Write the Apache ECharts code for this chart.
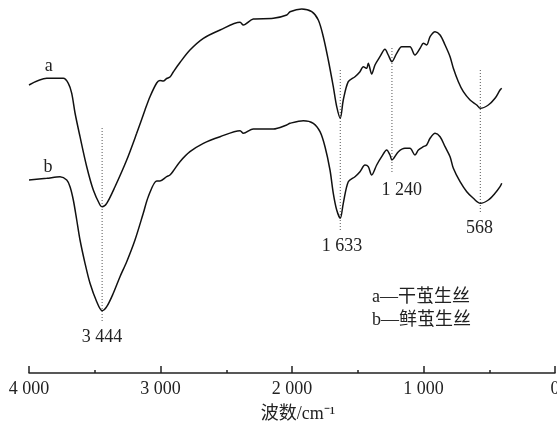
<!DOCTYPE html>
<html>
<head>
<meta charset="utf-8">
<script src="https://cdn.jsdelivr.net/npm/echarts@6/dist/echarts.min.js"></script>
<style>
  html, body { margin: 0; padding: 0; background: #fff; }
  #chart { width: 557px; height: 423px; }
</style>
</head>
<body>
<div id="chart"></div>
<script>
// 曲线 a（干茧生丝）：波数 / 相对透过率
var aWave = [4000, 3865, 3739, 3701, 3675, 3650, 3612, 3561, 3511, 3460, 3444, 3409, 3346, 3257, 3181, 3118, 3080,
  3029, 3004, 2979, 2953, 2928, 2903, 2852, 2776, 2674, 2547, 2395, 2370, 2294, 2142, 2040, 2015, 1926, 1850,
  1800, 1762, 1724, 1686, 1660, 1633, 1610, 1572, 1521, 1483, 1458, 1432, 1420, 1394, 1369, 1331, 1293, 1268,
  1240, 1204, 1166, 1141, 1103, 1065, 1026, 1001, 976, 950, 912, 874, 836, 798, 773, 735, 697, 646, 595, 568,
  507, 456, 418, 405];
var aValue = [288, 294.7, 294.7, 289.7, 279.7, 260, 236.3, 206.3, 183, 168, 166.3, 169.7, 186.3, 213, 239.7, 263, 276.3,
  290, 292.5, 292, 294.5, 296, 301, 310.5, 323, 334.7, 343, 350.7, 348, 354, 354.7, 358, 361.3, 364, 361.3,
  353, 336.3, 313, 286.3, 266.3, 254.7, 273, 291.3, 296.3, 301.3, 306.3, 304.7, 309.7, 299, 308, 316.3, 323.7, 318,
  311.3, 319.7, 326.3, 326.3, 326.3, 318, 324.7, 329.7, 328, 336.3, 341.3, 338, 328, 316.3, 304.7, 291.3, 281.3, 273, 268, 264.7,
  268, 274.7, 283, 284.7];

// 曲线 b（鲜茧生丝）
var bWave = [4000, 3865, 3764, 3713, 3688, 3663, 3637, 3612, 3574, 3536, 3485, 3444, 3409, 3359, 3308, 3257, 3194, 3131, 3093,
  3029, 3004, 2953, 2928, 2903, 2852, 2776, 2674, 2547, 2395, 2370, 2294, 2142, 2040, 2015, 1914, 1838,
  1787, 1749, 1711, 1686, 1660, 1633, 1610, 1572, 1521, 1483, 1445, 1420, 1394, 1356, 1318, 1280, 1255,
  1240, 1191, 1141, 1103, 1065, 1039, 1001, 976, 950, 912, 874, 836, 798, 773, 722, 671, 621, 568,
  507, 456, 418, 405];
var bValue = [193, 194.7, 196.3, 193, 186.3, 173, 153, 133, 109.7, 89.7, 71.3, 62.3, 66.3, 79.7, 96.3, 111.3, 133, 159.7, 176.3,
  192, 192, 196.3, 198, 202, 211.3, 221.3, 229.7, 236.3, 242.3, 239.7, 244, 244, 248, 249.7, 252.3, 249.7,
  241.3, 226.3, 203, 179.7, 163, 154.7, 169.7, 191.3, 196.3, 201.3, 208, 206.3, 198, 208, 216.3, 223, 218,
  213, 221.3, 224.7, 224.7, 218, 223, 226.3, 228, 234.7, 239.7, 236.3, 226.3, 216.3, 204.7, 191.3, 181.3, 174.7, 169.7,
  173, 179.7, 186.3, 189.7];

// 特征峰
var peakWave = [3444, 1633, 1240, 568];
var peakTop = [245, 303, 325, 303];
var peakBottom = [51, 141, 200, 161];
var peakText = ['3 444', '1 633', '1 240', '568'];
var peakLabelWave = [3444, 1620, 1165, 575];
var peakLabelValue = [36, 127, 183, 145];

var serif = '"Liberation Serif", "Noto Sans CJK SC", serif';

function pairs(xs, ys) {
  return xs.map(function (x, i) { return [x, ys[i]]; });
}

function fmt(v) {
  return String(v).replace(/\B(?=(\d{3})+(?!\d))/g, ' ');
}

var chart = echarts.init(document.getElementById('chart'));

var series = [
  {
    name: 'a',
    type: 'line',
    data: pairs(aWave, aValue),
    showSymbol: false,
    smooth: 0.3,
    lineStyle: { color: '#111', width: 1.5 },
    silent: true,
    z: 3
  },
  {
    name: 'b',
    type: 'line',
    data: pairs(bWave, bValue),
    showSymbol: false,
    smooth: 0.3,
    lineStyle: { color: '#111', width: 1.5 },
    silent: true,
    z: 3
  }
];

// 虚线
peakWave.forEach(function (w, i) {
  series.push({
    type: 'line',
    data: [[w, peakTop[i]], [w, peakBottom[i]]],
    showSymbol: false,
    lineStyle: { color: '#555', width: 1, type: [1, 2] },
    silent: true,
    z: 1
  });
});

// 峰位标注
series.push({
  type: 'scatter',
  symbolSize: 0,
  silent: true,
  itemStyle: { opacity: 1 },
  data: peakLabelWave.map(function (w, i) {
    return { value: [w, peakLabelValue[i]], name: peakText[i] };
  }),
  label: {
    show: true,
    position: 'inside',
    formatter: '{b}',
    color: '#222',
    fontFamily: serif,
    fontSize: 18
  }
});

// 曲线名称 a / b
series.push({
  type: 'scatter',
  symbolSize: 0,
  silent: true,
  itemStyle: { opacity: 1 },
  data: [
    { value: [3850, 307], name: 'a' },
    { value: [3855, 206], name: 'b' }
  ],
  label: {
    show: true,
    position: 'inside',
    formatter: '{b}',
    color: '#222',
    fontFamily: serif,
    fontSize: 18
  }
});

chart.setOption({
  animation: false,
  grid: {
    left: 29,
    right: 2,
    top: 0,
    bottom: 50,
    outerBoundsMode: 'none'
  },
  xAxis: {
    type: 'value',
    inverse: true,
    min: 0,
    max: 4000,
    interval: 1000,
    name: '波数/cm⁻¹',
    nameLocation: 'middle',
    nameGap: 32,
    nameTextStyle: {
      color: '#222',
      fontFamily: serif,
      fontSize: 18,
      padding: [0, 0, 0, 12]
    },
    axisLine: { lineStyle: { color: '#222', width: 1.5 } },
    axisTick: { inside: true, length: 7, lineStyle: { color: '#222', width: 1.5 } },
    minorTick: { show: true, splitNumber: 2, length: 3, lineStyle: { color: '#222', width: 1.5 } },
    axisLabel: {
      color: '#222',
      fontFamily: serif,
      fontSize: 18,
      margin: 7,
      formatter: fmt
    },
    splitLine: { show: false }
  },
  yAxis: {
    type: 'value',
    min: 0,
    max: 373,
    show: false
  },
  graphic: [
    {
      type: 'text',
      left: 372,
      top: 288,
      style: { text: 'a—干茧生丝', fill: '#222', font: '18px ' + serif }
    },
    {
      type: 'text',
      left: 372,
      top: 311,
      style: { text: 'b—鲜茧生丝', fill: '#222', font: '18px ' + serif }
    }
  ],
  series: series
});
</script>
</body>
</html>
